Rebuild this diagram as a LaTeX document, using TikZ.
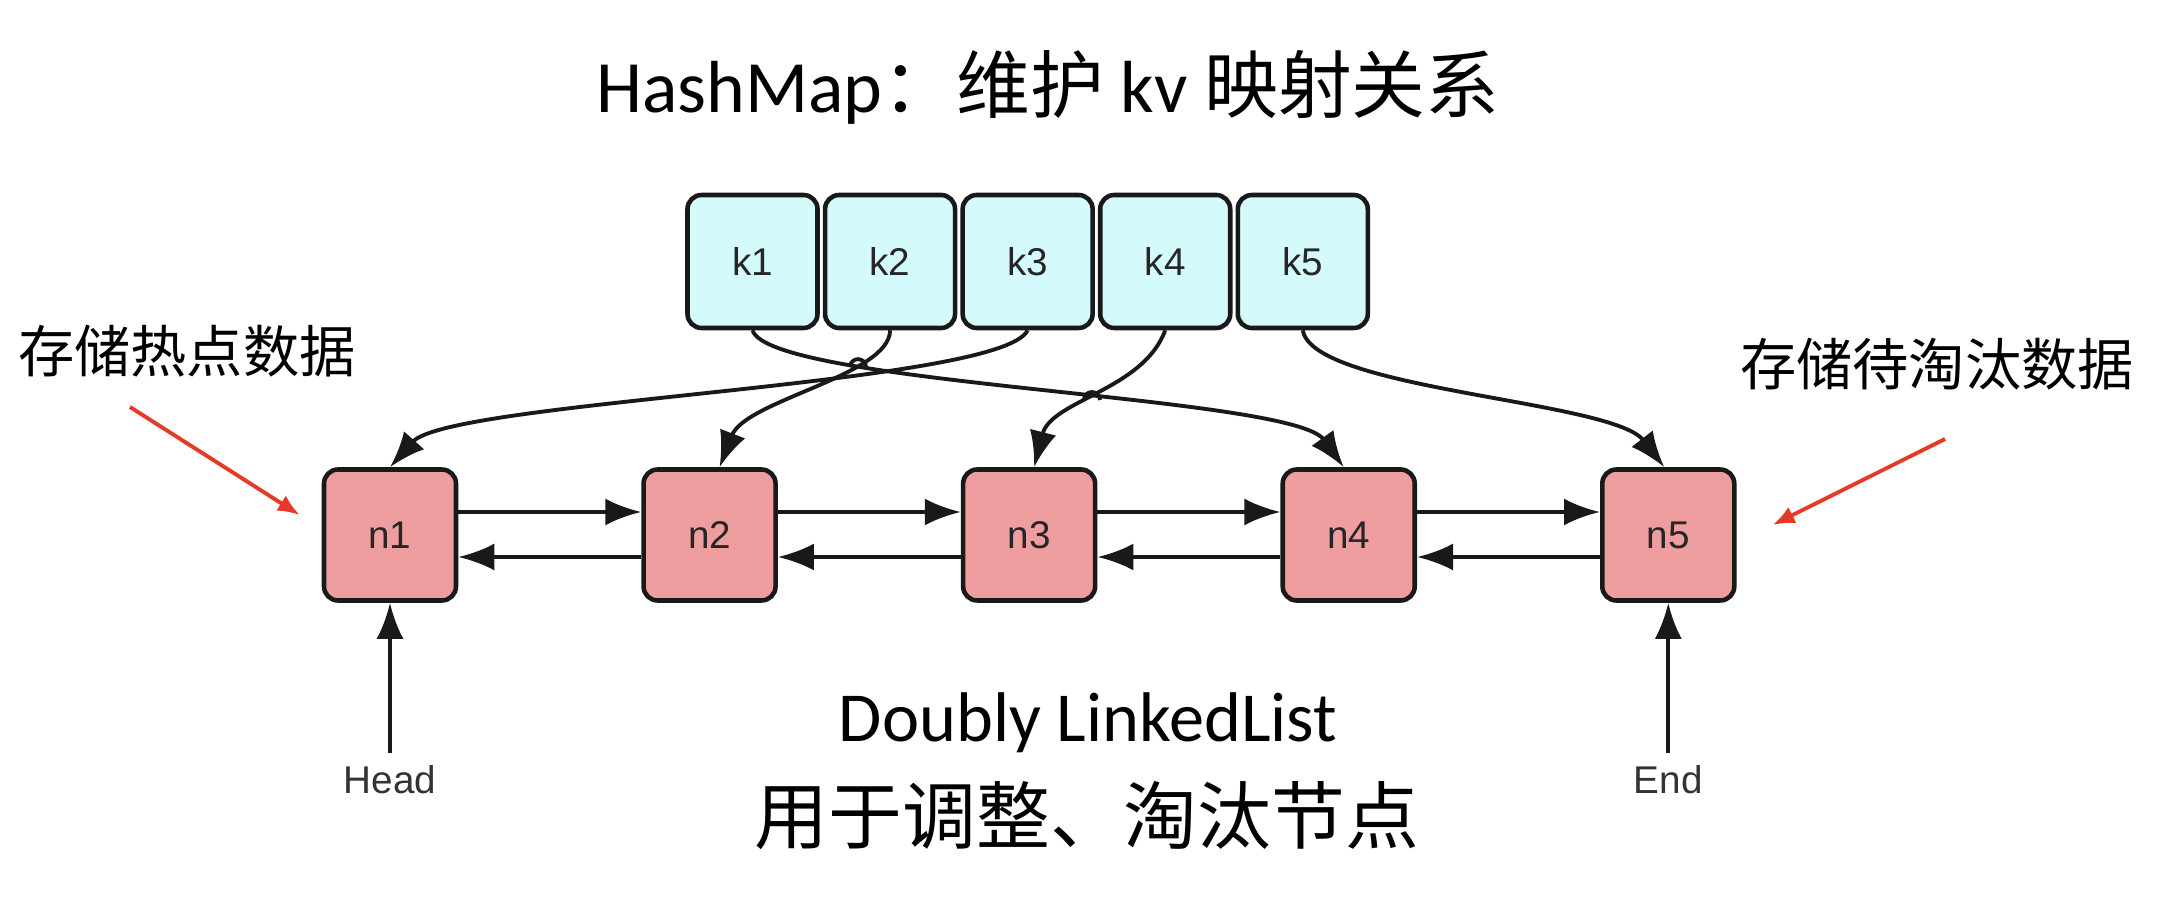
\documentclass[tikz,border=0pt]{standalone}
\usepackage{fontspec}
\setmainfont{Carlito}
\newfontfamily\cjk{Noto Sans CJK SC}
\newfontfamily\labelfont{Liberation Sans}
\usetikzlibrary{arrows.meta}
\usetikzlibrary{positioning}
\usetikzlibrary{intersections}

\definecolor{keyfill}{RGB}{212,250,252}
\definecolor{nodefill}{RGB}{238,158,158}
\definecolor{hintred}{RGB}{230,58,40}
\definecolor{edgegray}{RGB}{25,25,25}

\begin{document}
\begin{tikzpicture}[
        keybox/.style={draw=edgegray, line width=1.3pt, fill=keyfill, rounded corners=4pt,
            minimum width=1.30cm, minimum height=1.33cm, inner sep=0pt,
            font=\labelfont\fontsize{11}{13}\selectfont, text=black!85},
        listbox/.style={keybox, fill=nodefill, minimum width=1.32cm, minimum height=1.31cm},
        link/.style={-{Latex[length=0.36cm,width=0.27cm]}, line width=1.1pt, draw=edgegray},
        hop/.style={line width=1.1pt, draw=edgegray},
        hint/.style={-{Latex[length=0.22cm,width=0.18cm]}, line width=1.1pt, draw=hintred},
        endlabel/.style={font=\labelfont\fontsize{11}{13}\selectfont, text=black!80}
    ]
        \useasboundingbox (0,0) rectangle (21.62,-9.10);

        \node (title) at (10.48,-0.87) {\fontsize{21}{25}\selectfont HashMap{\cjk ：维护} kv {\cjk 映射关系}};

        \node[keybox] (k1) at (7.525,-2.615) {k1};
        \node[keybox, right=0.03cm of k1] (k2) {k2};
        \node[keybox, right=0.03cm of k2] (k3) {k3};
        \node[keybox, right=0.03cm of k3] (k4) {k4};
        \node[keybox, right=0.03cm of k4] (k5) {k5};

        \node[listbox] (n1) at (3.90,-5.35) {n1};
        \node[listbox, right=1.83cm of n1] (n2) {n2};
        \node[listbox, right=1.83cm of n2] (n3) {n3};
        \node[listbox, right=1.83cm of n3] (n4) {n4};
        \node[listbox, right=1.83cm of n4] (n5) {n5};

        \foreach \a/\b in {n1/n2, n2/n3, n3/n4, n4/n5} {
            \draw[link] ([yshift=0.23cm]\a.east) -- ([yshift=0.23cm]\b.west);
            \draw[link] ([yshift=-0.22cm]\b.west) -- ([yshift=-0.22cm]\a.east);
        }

        \draw[link, name path=hotpath] (k1.south) .. controls +(0.17,-0.55) and +(-0.52,0.72) .. ([xshift=-0.05cm]n4.north);
        \draw[link, name path=twopath] (k2.south) .. controls +(0,-0.45) and +(0.26,0.67) .. ([xshift=0.1cm]n2.north);
        \draw[link] (k3.south) .. controls +(-0.26,-0.55) and +(0.6,0.67) .. (n1.north);
        \draw[link, name path=fourpath] (k4.south) .. controls +(-0.22,-0.6) and +(0.17,0.67) .. ([xshift=0.05cm]n3.north);
        \draw[link] (k5.south) .. controls +(0.1,-0.6) and +(-0.52,0.67) .. ([xshift=-0.04cm]n5.north);

        \path[name intersections={of=hotpath and twopath, by=hopa}];
        \path[name intersections={of=hotpath and fourpath, by=hopb}];
        \draw[hop] ([xshift=-0.08cm]hopa) arc[start angle=180, end angle=0, radius=0.08cm];
        \draw[hop] ([xshift=-0.08cm]hopb) arc[start angle=180, end angle=0, radius=0.08cm];

        \node[endlabel, below=1.5cm of n1] (head) {Head};
        \node[endlabel, below=1.5cm of n5] (end) {End};
        \draw[link] (head.north) -- (n1.south);
        \draw[link] (end.north) -- (n5.south);

        \node (listname) at (10.88,-7.23) {\fontsize{20}{24}\selectfont Doubly LinkedList};
        \node (listuse) at (10.87,-8.16) {\cjk\fontsize{21}{25}\selectfont 用于调整、淘汰节点};

        \node (hotlabel) at (1.87,-3.51) {\cjk\fontsize{16}{19}\selectfont 存储热点数据};
        \node (coldlabel) at (19.37,-3.64) {\cjk\fontsize{16}{19}\selectfont 存储待淘汰数据};
        \coordinate (hotfrom) at (1.30,-4.07);
        \coordinate (coldfrom) at (19.45,-4.39);
        \draw[hint] (hotfrom) -- ([xshift=-0.22cm,yshift=0.2cm]n1.west);
        \draw[hint] (coldfrom) -- ([xshift=0.36cm,yshift=0.1cm]n5.east);
    \end{tikzpicture}
\end{document}
